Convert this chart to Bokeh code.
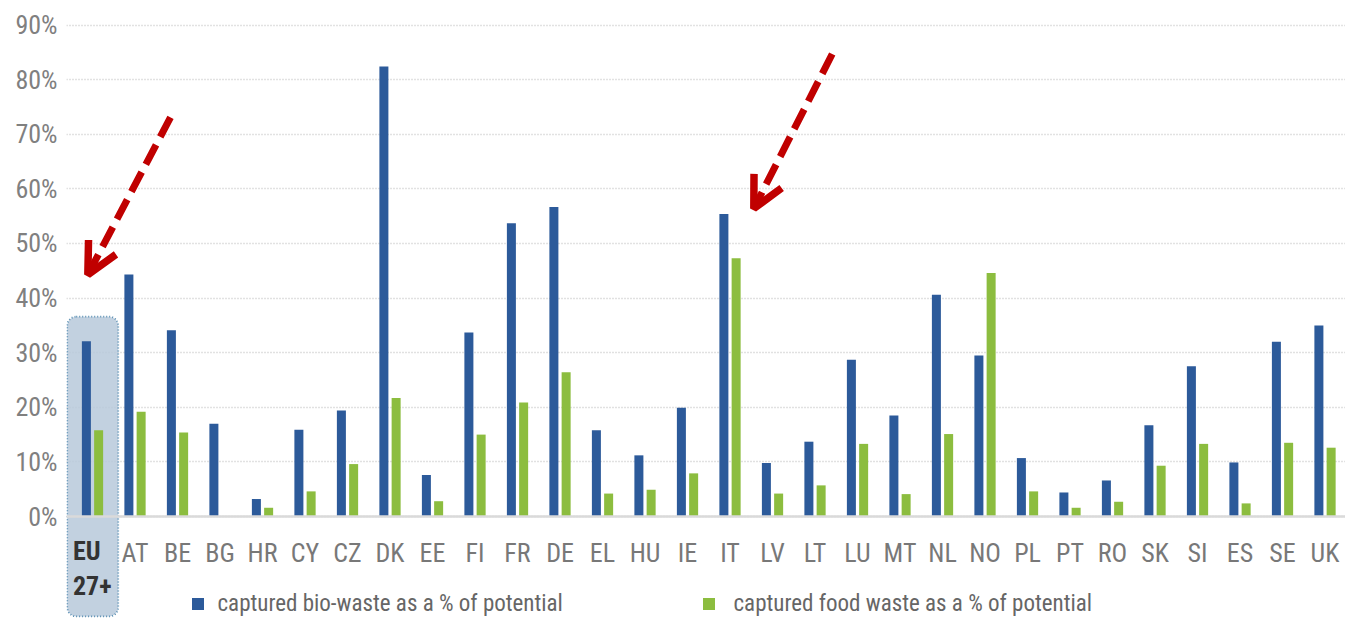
from bokeh.plotting import figure
from bokeh.models import (Range1d, FixedTicker, ColumnDataSource, Legend, LegendItem,
                          Arrow, OpenHead)
from bokeh.transform import dodge
from bokeh.core.properties import value
from bokeh.embed import file_html
from bokeh.resources import INLINE

categories = ["EU 27+", "AT", "BE", "BG", "HR", "CY", "CZ", "DK", "EE", "FI", "FR", "DE",
              "EL", "HU", "IE", "IT", "LV", "LT", "LU", "MT", "NL", "NO", "PL", "PT",
              "RO", "SK", "SI", "ES", "SE", "UK"]
bio_waste = [32.1, 44.3, 34.1, 17.0, 3.2, 15.9, 19.4, 82.4, 7.6, 33.7, 53.7, 56.7,
             15.8, 11.2, 19.9, 55.4, 9.8, 13.7, 28.7, 18.5, 40.6, 29.5, 10.7, 4.4,
             6.6, 16.7, 27.5, 9.9, 32.0, 35.0]
food_waste = [15.8, 19.2, 15.4, 0.0, 1.6, 4.6, 9.6, 21.7, 2.8, 15.0, 20.9, 26.4,
              4.2, 4.9, 7.9, 47.3, 4.2, 5.7, 13.3, 4.1, 15.1, 44.6, 4.6, 1.6,
              2.7, 9.3, 13.3, 2.4, 13.5, 12.6]
y_ticks = [0, 10, 20, 30, 40, 50, 60, 70, 80, 90]
series_labels = ["captured bio-waste as a % of potential",
                 "captured food waste as a % of potential"]

FONT = "'Roboto Condensed', 'DejaVu Sans Condensed', 'Liberation Sans Narrow', Roboto"
BLUE = "#2c5a9a"
GREEN = "#8cbd3f"

positions = list(range(len(categories)))
src = ColumnDataSource(dict(x=positions, cat=categories, bio=bio_waste, food=food_waste))

p = figure(width=1345, height=618, output_backend="svg", toolbar_location=None,
           x_range=Range1d(-0.612, 29.482), y_range=Range1d(-18.68, 94.5),
           min_border_left=66, min_border_right=0, min_border_top=0, min_border_bottom=0)
p.outline_line_color = None
p.background_fill_color = "white"

# highlight box behind the EU 27+ bars
eu = categories.index("EU 27+")
p.quad(left=[eu - 0.595], right=[eu + 0.605], top=[36.6], bottom=[-18.3],
       border_radius=9, fill_color="#b7c9da", fill_alpha=0.85,
       line_color="#5a8fb3", line_width=1.8, line_dash="1 2")

r_bio = p.vbar(x=dodge("x", -0.144, range=p.x_range), top="bio", width=0.212, bottom=0,
               source=src, fill_color=BLUE, line_color=None)
r_food = p.vbar(x=dodge("x", 0.144, range=p.x_range), top="food", width=0.212, bottom=0,
                source=src, fill_color=GREEN, line_color=None)

# axes
p.xaxis.fixed_location = 0
p.xaxis.ticker = FixedTicker(ticks=positions)
p.xaxis.major_label_overrides = {i: ("" if c == "EU 27+" else c) for i, c in enumerate(categories)}
p.xaxis.axis_line_color = "#dadada"
p.xaxis.axis_line_width = 2.5
p.xaxis.major_tick_line_color = None
p.xaxis.minor_tick_line_color = None
p.xaxis.major_tick_out = 0
p.xaxis.major_tick_in = 0
p.xaxis.major_label_standoff = 21
p.xaxis.major_label_text_font = FONT
p.xaxis.major_label_text_font_size = "26px"
p.xaxis.major_label_text_color = "#787878"

p.yaxis.ticker = FixedTicker(ticks=y_ticks)
p.yaxis.major_label_overrides = {t: ("\u2007" if t < 10 else "") + f"{t}%" for t in y_ticks}
p.yaxis.axis_line_color = None
p.yaxis.major_tick_line_color = None
p.yaxis.minor_tick_line_color = None
p.yaxis.major_tick_out = 0
p.yaxis.major_tick_in = 0
p.yaxis.major_label_standoff = 9
p.yaxis.major_label_text_font = FONT
p.yaxis.major_label_text_font_size = "26px"
p.yaxis.major_label_text_color = "#808080"

p.xgrid.grid_line_color = None
p.ygrid.ticker = FixedTicker(ticks=y_ticks)
p.ygrid.grid_line_color = "#c4c4c4"
p.ygrid.grid_line_width = 1.6
p.ygrid.grid_line_dash = "1 2"

# bold two-line label for EU 27+
p.text(x=[eu - 0.46, eu - 0.46], y=[-6.4, -12.6], text=["EU", "27+"],
       text_font=value(FONT), text_font_style="bold", text_font_size="26px",
       text_color="#333333", text_align="left", text_baseline="middle")

# legends
leg1 = Legend(items=[LegendItem(label=series_labels[0], renderers=[r_bio])],
              location=(123.5, 1), orientation="horizontal", padding=0, margin=0,
              border_line_color=None, background_fill_alpha=0,
              glyph_width=15, glyph_height=15, label_standoff=13,
              label_text_font=FONT, label_text_font_size="23px", label_text_color="#666666")
leg2 = Legend(items=[LegendItem(label=series_labels[1], renderers=[r_food])],
              location=(634.5, 1), orientation="horizontal", padding=0, margin=0,
              border_line_color=None, background_fill_alpha=0,
              glyph_width=15, glyph_height=15, label_standoff=18,
              label_text_font=FONT, label_text_font_size="23px", label_text_color="#666666")
p.add_layout(leg1)
p.add_layout(leg2)

# red dashed arrows
it = categories.index("IT")
RED = "#c00000"
for (xs, ys, xe, ye) in [(eu + 1.835, 73.1, eu - 0.11, 44.3),
                         (it + 2.405, 84.7, it + 0.56, 56.4)]:
    p.add_layout(Arrow(end=OpenHead(size=31, line_color=RED, line_width=7.5),
                       x_start=xs, y_start=ys, x_end=xe, y_end=ye,
                       line_color=RED, line_width=7, line_dash="22 9"))

open("out.html", "w").write(file_html(p, INLINE))
